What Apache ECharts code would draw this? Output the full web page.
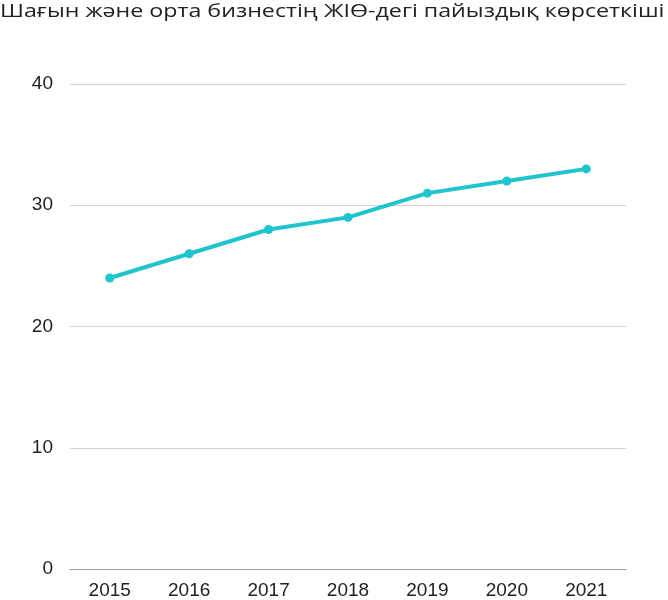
<!DOCTYPE html>
<html><head><meta charset="utf-8">
<script src="https://cdn.jsdelivr.net/npm/echarts@6/dist/echarts.min.js"></script>
<style>html,body{margin:0;padding:0;background:#fff}#c{width:668px;height:600px}</style>
</head><body><div id="c"></div>
<script>
const titleText = 'Шағын және орта бизнестің ЖІӨ-дегі пайыздық көрсеткіші';
const years = ['2015','2016','2017','2018','2019','2020','2021'];
const values = [24, 26, 28, 29, 31, 32, 33];
const yTicks = [0, 10, 20, 30, 40];

const chart = echarts.init(document.getElementById('c'));
chart.setOption({
  animation: false,
  backgroundColor: '#fff',
  graphic: [{
    type: 'text', x: 0, y: 11.5, scaleX: 1.29, scaleY: 1,
    style: {
      text: titleText, font: '18px "Open Sans"', fill: '#222',
      align: 'left', verticalAlign: 'middle'
    }
  }],
  grid: {left: 70, right: 42, top: 84, bottom: 30},
  xAxis: {
    type: 'category', data: years, boundaryGap: true,
    axisLine: {lineStyle: {color: '#999', width: 1}},
    axisTick: {show: false},
    axisLabel: {fontFamily: 'Liberation Sans', fontSize: 19, color: '#222', margin: 12}
  },
  yAxis: {
    type: 'value', min: yTicks[0], max: yTicks[yTicks.length-1], interval: 10,
    axisLine: {show: false}, axisTick: {show: false},
    splitLine: {lineStyle: {color: '#d4d4d4', width: 1}},
    axisLabel: {fontFamily: 'Liberation Sans', fontSize: 19, color: '#222', margin: 17}
  },
  series: [{
    type: 'line', data: values,
    lineStyle: {color: '#1ec5cc', width: 4},
    itemStyle: {color: '#1ec5cc'},
    symbol: 'circle', symbolSize: 9
  }]
});
</script></body></html>
